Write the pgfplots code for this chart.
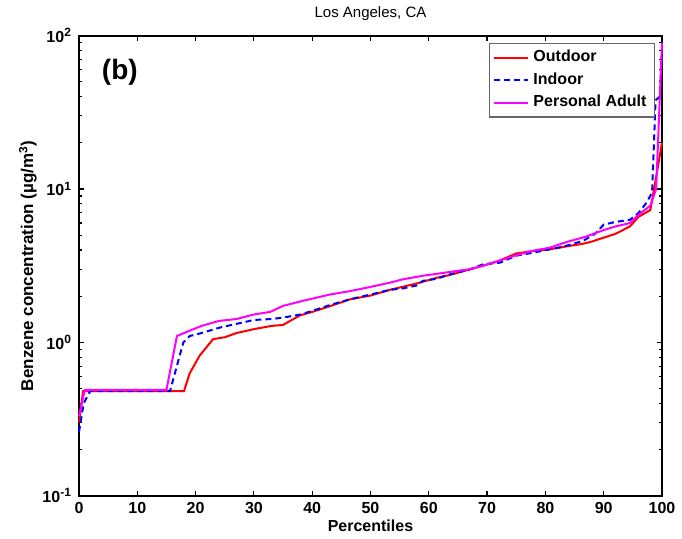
\documentclass[border=0pt]{standalone}
\usepackage{pgfplots}
\pgfplotsset{compat=1.18}
\usepackage{fontspec}
\setmainfont{Liberation Sans}
\usetikzlibrary{calc}
\definecolor{mred}{RGB}{255,0,0}
\definecolor{mblue}{RGB}{0,0,255}
\definecolor{mmag}{RGB}{255,0,255}
\begin{document}
\begin{tikzpicture}
\begin{axis}[
  scale only axis,
  width=291.5pt, height=230pt,
  xmin=0, xmax=100, ymode=log, ymin=0.1, ymax=100,
  xtick={0,10,...,100},
  ytick={0.1,1,10,100},
  yticklabels={10\textsuperscript{-1},10\textsuperscript{0},10\textsuperscript{1},10\textsuperscript{2}},
  /pgf/number format/assume math mode=true,
  tick label style={font=\fontsize{8}{9}\selectfont\bfseries},
  major tick length=2.5pt, minor tick length=1.5pt,
  axis line style={line width=0.8pt},
  every tick/.style={black, line width=0.6pt},
  title={Los Angeles, CA},
  title style={font=\fontsize{7.5}{9}\selectfont, yshift=-2pt},
  xlabel={Percentiles},
  ylabel={Benzene concentration (µg/m\textsuperscript{3})},
  xlabel style={font=\fontsize{8}{9}\selectfont\bfseries, yshift=4pt},
  ylabel style={font=\fontsize{8.5}{10}\selectfont\bfseries, yshift=-4pt},
  legend style={at={(rel axis cs:0.988,0.985)}, anchor=north east, font=\fontsize{8}{10}\selectfont\bfseries, draw=black!60, line width=0.6pt, inner xsep=2pt, inner ysep=1.5pt, row sep=0pt},
  legend cell align=left,
  legend image post style={line width=1pt},
  clip=false,
]
\addplot[mred, line width=1pt] coordinates {
(0,0.30) (0.7,0.48) (18,0.48) (19,0.63) (20.7,0.82) (23,1.05) (25,1.08) (27,1.15)
(30,1.22) (33,1.28) (35,1.30) (37.9,1.50) (40,1.58) (43,1.72) (46.5,1.91) (50,2.02)
(53.3,2.20) (57.9,2.42) (61.4,2.64) (63.6,2.75) (67,2.99) (69.3,3.16) (72,3.40)
(75,3.80) (78,3.95) (80.8,4.05) (84,4.25) (86.5,4.40) (88,4.55) (90,4.82) (92,5.10)
(94.5,5.70) (96,6.60) (98,7.30) (99,12) (100,20)};
\addlegendentry{Outdoor}
\addplot[mblue, line width=1pt, dash pattern=on 3pt off 2pt] coordinates {
(0,0.26) (0.8,0.40) (1.9,0.48) (15.6,0.48) (17.9,1.00) (19,1.10) (21,1.15) (24.2,1.25)
(27,1.32) (30,1.40) (33,1.42) (35,1.45) (38,1.52) (40.8,1.64) (43,1.75) (46.5,1.91)
(50,2.05) (53.3,2.20) (55.6,2.25) (57.9,2.35) (59,2.52) (61.4,2.60) (63.6,2.78)
(67,2.99) (69.3,3.23) (72.2,3.31) (75,3.68) (78,3.85) (80.8,4.05) (83,4.20) (86.5,4.60)
(88.5,5.10) (90,5.86) (92,6.10) (94.5,6.30) (96,7.00) (97.4,8.20) (98.3,9.5) (98.9,38)
(99.6,40) (100,80)};
\addlegendentry{Indoor}
\addplot[mmag, line width=1pt] coordinates {
(0,0.33) (1,0.49) (15,0.49) (16.8,1.10) (18.7,1.18) (21,1.28) (24,1.38) (27,1.42)
(30,1.52) (32.8,1.58) (35,1.73) (38,1.85) (40.8,1.96) (43,2.05) (46.5,2.16) (50,2.30)
(53.3,2.45) (55.6,2.58) (59,2.72) (61.4,2.80) (63.6,2.88) (67,3.00) (69.3,3.16)
(72,3.40) (75,3.70) (77.9,3.96) (80.8,4.15) (83.7,4.52) (87,4.90) (90,5.40) (92,5.70)
(94.5,6.00) (96,6.80) (98,7.80) (99,10) (100,90)};
\addlegendentry{Personal Adult}
\node[font=\fontsize{14}{16}\selectfont\bfseries] at (rel axis cs:0.07,0.92) {(b)};
\end{axis}
\path ($(current axis.south west)+(-39.5pt,-20pt)$) rectangle ($(current axis.north east)+(10pt,16.5pt)$);
\end{tikzpicture}
\end{document}
